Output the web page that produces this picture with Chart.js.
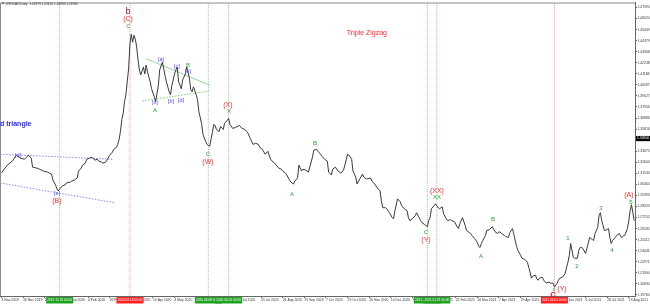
<!DOCTYPE html>
<html><head><meta charset="utf-8">
<script src="https://cdn.jsdelivr.net/npm/chart.js@4.4.1/dist/chart.umd.min.js"></script>
<style>html,body{margin:0;padding:0;background:#fff;}canvas{display:block}</style>
</head><body>
<canvas id="c" width="650" height="304"></canvas>
<script>
// ---- data (trading-day index since 4 Nov 2019, daily close) ----
const dayIndex = [
  0,2,5,8,11,14,17,20,22,23,
  26,28,31,34,37,38,40,41,42,43,
  45,47,48,51,52,54,56,57,59,60,
  62,63,65,66,68,69,71,72,74,75,
  77,78,80,82,83,85,86,87,88,89,
  90,91,92,93,94,95,96,97,98,99,
  100,101,102,103,105,106,107,108,110,111,
  113,114,116,117,119,121,122,124,125,126,
  128,129,130,131,133,134,136,137,139,140,
  141,142,144,145,146,148,149,151,152,154,
  155,156,157,158,159,161,162,164,165,168,
  169,171,173,176,178,180,182,184,186,188,
  190,191,193,195,197,199,201,202,205,207,
  208,210,211,213,214,216,217,219,220,222,
  223,225,227,230,231,233,234,236,237,239,
  241,242,244,245,247,249,251,253,254,256,
  257,259,260,262,263,265,267,268,270,273,
  274,276,278,280,281,282,284,285,287,289,
  290,291,293,295,296,298,300,301,302,304,
  306,307,309,310,311,313,315,316,317,318,
  320,321,323,324,326,327,329,330,332,333,
  335,337,338,339,341,343,344,347,348,350,
  352,353,354,355,356,358,359,361,363,365,
  367,368,370,372,373,375,376,378,379,380,
  381,382,384,385,387,389,390,391,392,393,
  395,396,397,398,400,401,403,405,406,408,
  409,411,412,413,415,416,417,418,419,420,
  421,423,424,426,427,428,429,430,432,434,
  435,437,438,439,441,442,443,444,445,446,
  448,449,450,451,452,454,455,457,458,459,
  460,461,463,464,465,466,467,468
];
const closes = [
  1.3156,1.3194,1.3242,1.3271,1.3329,1.3300,1.3290,1.3329,1.3300,1.3213,
  1.3204,1.3194,1.3175,1.3165,1.3146,1.3089,1.3041,1.3002,1.2983,1.3002,
  1.3031,1.3041,1.3060,1.3069,1.3079,1.3089,1.3108,1.3175,1.3204,1.3233,
  1.3252,1.3290,1.3300,1.3309,1.3300,1.3281,1.3290,1.3271,1.3261,1.3252,
  1.3261,1.3281,1.3329,1.3357,1.3386,1.3405,1.3434,1.3482,1.3559,1.3674,
  1.3732,1.3847,1.3914,1.4039,1.4164,1.4404,1.4500,1.4423,1.4490,1.4452,
  1.4375,1.4250,1.4154,1.4106,1.4183,1.4116,1.4202,1.4135,1.4039,1.3972,
  1.3895,1.3847,1.4001,1.4154,1.4231,1.4097,1.4039,1.3943,1.3914,1.4001,
  1.4116,1.4154,1.4183,1.4039,1.3972,1.4058,1.4116,1.4183,1.4077,1.3962,
  1.3943,1.3991,1.3914,1.3866,1.3751,1.3636,1.3530,1.3463,1.3434,1.3415,
  1.3482,1.3549,1.3626,1.3617,1.3578,1.3559,1.3607,1.3578,1.3636,1.3684,
  1.3626,1.3588,1.3597,1.3617,1.3588,1.3578,1.3549,1.3492,1.3434,1.3444,
  1.3434,1.3405,1.3386,1.3338,1.3367,1.3290,1.3261,1.3252,1.3204,1.3194,
  1.3175,1.3156,1.3137,1.3089,1.3069,1.3050,1.3079,1.3108,1.3233,1.3175,
  1.3194,1.3185,1.3165,1.3309,1.3377,1.3386,1.3367,1.3338,1.3319,1.3290,
  1.3271,1.3165,1.3137,1.3194,1.3213,1.3175,1.3156,1.3185,1.3233,1.3338,
  1.3329,1.3290,1.3175,1.3117,1.3050,1.3098,1.3146,1.3117,1.3098,1.3108,
  1.3079,1.3050,1.3012,1.2983,1.2887,1.2820,1.2820,1.2810,1.2772,1.2724,
  1.2714,1.2791,1.2906,1.2877,1.2839,1.2810,1.2791,1.2724,1.2695,1.2714,
  1.2743,1.2772,1.2724,1.2695,1.2676,1.2657,1.2637,1.2695,1.2724,1.2810,
  1.2839,1.2858,1.2820,1.2810,1.2829,1.2762,1.2714,1.2695,1.2705,1.2695,
  1.2685,1.2637,1.2618,1.2666,1.2724,1.2647,1.2599,1.2570,1.2551,1.2522,
  1.2484,1.2445,1.2436,1.2474,1.2503,1.2551,1.2599,1.2609,1.2637,1.2589,
  1.2570,1.2589,1.2570,1.2551,1.2541,1.2532,1.2580,1.2618,1.2561,1.2503,
  1.2445,1.2407,1.2359,1.2331,1.2321,1.2292,1.2244,1.2196,1.2138,1.2157,
  1.2167,1.2129,1.2119,1.2138,1.2148,1.2119,1.2090,1.2100,1.2090,1.2090,
  1.2052,1.2090,1.2119,1.2138,1.2148,1.2167,1.2186,1.2244,1.2292,1.2359,
  1.2474,1.2340,1.2331,1.2331,1.2407,1.2436,1.2436,1.2426,1.2378,1.2474,
  1.2532,1.2513,1.2503,1.2570,1.2628,1.2743,1.2772,1.2695,1.2647,1.2599,
  1.2609,1.2618,1.2532,1.2474,1.2503,1.2532,1.2551,1.2570,1.2541,1.2532,
  1.2551,1.2551,1.2618,1.2695,1.2791,1.2849,1.2772,1.2695
];
// x-axis date labels, one every 16 trading days
const dateLabels = ["4 Nov 2019","26 Nov 2019","18 Dec 2019","10 Jan 2020","4 Feb 2020","26 Feb 2020","19 Mar 2020","10 Apr 2020","4 May 2020","26 May 2020","17 Jun 2020","9 Jul 2020","31 Jul 2020","24 Aug 2020","15 Sep 2020","7 Oct 2020","29 Oct 2020","20 Nov 2020","14 Dec 2020","7 Jan 2021","29 Jan 2021","22 Feb 2021","16 Mar 2021","7 Apr 2021","29 Apr 2021","21 May 2021","14 Jun 2021","6 Jul 2021","28 Jul 2021","19 Aug 2021"];
const yTicks = [1.47590,1.46520,1.45449,1.44379,1.43308,1.42238,1.41168,1.40097,1.39027,1.37956,1.36886,1.35816,1.34745,1.33675,1.32604,1.31534,1.30464,1.29393,1.28323,1.27252,1.26182,1.25112,1.24041,1.22971,1.21900,1.20830,1.19760];
const yMin = 1.19654, yMax = 1.48070;
const xMin = -1.11, xMax = 468.6;
// vertical marker lines
const markerDays  = [43, 95, 153, 168, 315, 322, 409];
const markerKinds = ['g','r','g','g','g','g','r'];
const markerDates = ["2019.12.31 00:00","2020.03.18 00:00","2020.06.08 00:00","2020.06.26 00:00","2021.01.20 00:00","2021.01.29 00:00","2021.06.01 00:00"];
// triangle trend lines [startDay, endDay], [startPrice, endPrice]
const blueUpperDays = [-1, 82],  blueUpperPrices = [1.3338, 1.3290];
const blueLowerDays = [-1, 84],  blueLowerPrices = [1.3060, 1.2868];
const greenUpperDays = [107, 154], greenUpperPrices = [1.4263, 1.4007];
const greenLowerDays = [104, 154], greenLowerPrices = [1.3854, 1.3950];
// wave labels
const waveText  = ["b","(C)","C","[a]","[c]","B","[e]","[x]","[b]","[d]","A","C","(W)","(X)","X","A","B","C","(Y)","(XX)","XX","A","B","c","C","(Y)","1","2","3","4","(A)","5","[d]","[e]","(B)","Triple Zigzag"];
const waveDay   = [93.6,93.6,93.8,118,129.8,137.9,137.9,113.5,125.4,132.8,113.5,152.7,152.7,167.5,168.2,214.9,231.9,314,314,322.1,322.1,354.7,363.5,408.7,408,414.6,419,425.7,443.4,451.6,464.1,465.6,12.2,41,41,270.3];
const wavePrice = [1.4721,1.4644,1.4577,1.4260,1.4183,1.4202,1.4135,1.3837,1.3847,1.3857,1.3761,1.3338,1.3261,1.3818,1.3751,1.2954,1.3444,1.2580,1.2503,1.2983,1.2916,1.2349,1.2705,1.2033,1.1975,1.2033,1.2522,1.2254,1.2810,1.2407,1.2945,1.2877,1.3329,1.2954,1.2887,1.4509];
const waveKind  = ["bb","r","g","bl","bl","g","bl","bl","bl","bl","g","g","r","r","g","g","g","g","r","r","g","g","g","g","rb","r","g","g","g","g","r","g","bl","bl","r","rt"];
const sideText = "d triangle", sidePrice = 1.3626;
const titleText = "USDCAD,Daily  1.24973 1.25120 1.24960 1.24962";
const markerPrice = 1.34900;

// ---- styles ----
const FONT = 'Arial, "Liberation Sans", sans-serif';
const kindStyle = {
  g:  {color:'#2f9e35', font:'6px '+FONT},
  r:  {color:'#ff2b2b', font:'7px '+FONT},
  rb: {color:'#ee1c1c', font:'bold 8px '+FONT},
  rt: {color:'#ff2b2b', font:'7px '+FONT},
  bb: {color:'#b3141b', font:'9px '+FONT},
  bl: {color:'#4747ff', font:'5.5px '+FONT}
};

const pts = (d, p) => d.map((v, k) => ({x: v, y: p[k]}));
const lineDs = (d, p, color, dash) => ({data: pts(d, p), borderColor: color, borderWidth: 1, borderDash: dash, pointRadius: 0, tension: 0, fill: false});

const datasets = [
  {data: pts(dayIndex, closes), borderColor: '#3a3a3a', borderWidth: 1, pointRadius: 0, tension: 0, fill: false},
  lineDs(blueUpperDays, blueUpperPrices, '#8a8aff', [1.5, 1.5]),
  lineDs(blueLowerDays, blueLowerPrices, '#8a8aff', [1.5, 1.5]),
  lineDs(greenUpperDays, greenUpperPrices, '#9ad49a', []),
  lineDs(greenLowerDays, greenLowerPrices, '#9ad49a', [2, 1]),
];
markerDays.forEach((d, k) => {
  datasets.push(lineDs([d, d], [yMin, yMax], markerKinds[k] === 'g' ? '#8fd18f' : '#ff9a9a', [1, 1]));
});

const overlay = {
  id: 'overlay',
  afterDatasetsDraw(chart) {
    const {ctx, chartArea: a, scales: {x, y}} = chart;
    ctx.save();
    ctx.strokeStyle = '#8c8c8c'; ctx.lineWidth = 1;
    ctx.beginPath();
    ctx.moveTo(a.left + 0.5, a.bottom); ctx.lineTo(a.left + 0.5, a.top + 0.5); ctx.lineTo(a.right, a.top + 0.5);
    ctx.stroke();
    ctx.textAlign = 'center'; ctx.textBaseline = 'middle';
    waveText.forEach((t, k) => {
      const s = kindStyle[waveKind[k]];
      ctx.fillStyle = s.color; ctx.font = s.font;
      ctx.fillText(t, x.getPixelForValue(waveDay[k]), y.getPixelForValue(wavePrice[k]));
    });
    ctx.textAlign = 'left';
    ctx.fillStyle = '#2b2bff'; ctx.font = 'bold 7px ' + FONT;
    ctx.fillText(sideText, a.left, y.getPixelForValue(sidePrice));
    // title
    ctx.fillStyle = '#777';
    ctx.beginPath(); ctx.moveTo(1.5, 2); ctx.lineTo(4.5, 2); ctx.lineTo(3, 5); ctx.closePath(); ctx.fill();
    ctx.fillStyle = '#333'; ctx.font = '3.2px ' + FONT;
    ctx.fillText(titleText, 6, 4);
    ctx.restore();
  },
  afterDraw(chart) {
    const {ctx, chartArea: a, scales: {x, y}} = chart;
    ctx.save();
    ctx.textAlign = 'center'; ctx.textBaseline = 'middle';
    markerDays.forEach((d, k) => {
      const px = x.getPixelForValue(d);
      ctx.fillStyle = markerKinds[k] === 'g' ? '#21a121' : '#ff2222';
      ctx.fillRect(px - 13.5, a.bottom + 1, 27, 6.5);
      ctx.fillStyle = '#fff'; ctx.font = '3.2px ' + FONT;
      ctx.fillText(markerDates[k], px, a.bottom + 4.3);
    });
    const py = y.getPixelForValue(markerPrice);
    ctx.fillStyle = '#000';
    ctx.fillRect(a.right + 1, py - 2.6, 14, 5.2);
    ctx.fillStyle = '#fff'; ctx.font = '3.4px ' + FONT; ctx.textAlign = 'left';
    ctx.fillText(markerPrice.toFixed(5), a.right + 2, py);
    ctx.restore();
  }
};

new Chart(document.getElementById('c'), {
  type: 'line',
  data: {datasets},
  options: {
    responsive: false, animation: false, devicePixelRatio: 1,
    layout: {padding: 0},
    plugins: {legend: {display: false}, tooltip: {enabled: false}},
    scales: {
      x: {
        type: 'linear', position: 'bottom', min: xMin, max: xMax,
        afterFit: s => { s.height = 8; },
        afterBuildTicks: s => { s.ticks = dateLabels.map((_, k) => ({value: k * 16})); },
        grid: {drawOnChartArea: false, drawTicks: true, tickLength: 2, color: '#666'},
        border: {display: true, color: '#666'},
        ticks: {autoSkip: false, maxRotation: 0, minRotation: 0, align: 'start', padding: 0,
          font: {size: 3.4, family: FONT}, color: '#333',
          callback: v => dateLabels[Math.round(v / 16)] || ''}
      },
      y: {
        type: 'linear', position: 'right', min: yMin, max: yMax,
        afterFit: s => { s.width = 15; },
        afterBuildTicks: s => { s.ticks = yTicks.map(v => ({value: v})); },
        grid: {drawOnChartArea: false, drawTicks: true, tickLength: 2, color: '#666'},
        border: {display: true, color: '#666'},
        ticks: {padding: 0.5, font: {size: 3.4, family: FONT}, color: '#333',
          callback: v => Number(v).toFixed(5)}
      }
    }
  },
  plugins: [overlay]
});
</script>
</body></html>
